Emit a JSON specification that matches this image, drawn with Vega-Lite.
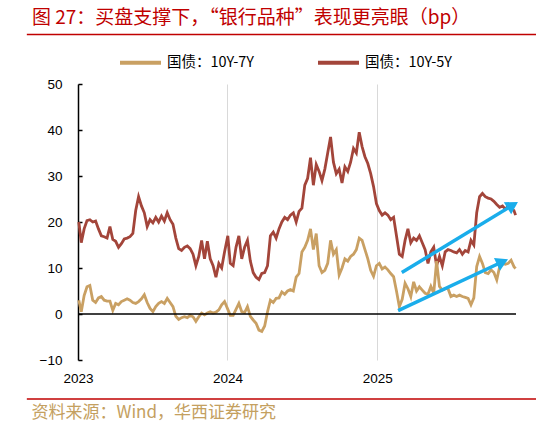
{
  "$schema": "https://vega.github.io/schema/vega-lite/v6.json",
  "width": 438,
  "height": 276,
  "autosize": {"type": "none"},
  "padding": {"left": 78, "top": 84, "right": 20, "bottom": 64},
  "background": "white",
  "title": {
    "text": "图 27：买盘支撑下，“银行品种”表现更亮眼（bp）",
    "anchor": "start",
    "frame": "group",
    "dx": -46,
    "dy": 21,
    "offset": 12,
    "color": "#C00000",
    "font": "Noto Sans CJK SC",
    "fontSize": 19,
    "fontWeight": "normal",
    "baseline": "alphabetic"
  },
  "datasets": {
    "spread": [
      {"d": "2023-01-03", "a": 3.0, "b": 20.0},
      {"d": "2023-01-09", "a": 0.5, "b": 15.5},
      {"d": "2023-01-16", "a": 4.0, "b": 18.5},
      {"d": "2023-01-23", "a": 5.9, "b": 20.3},
      {"d": "2023-01-30", "a": 6.2, "b": 20.5},
      {"d": "2023-02-06", "a": 3.0, "b": 20.0},
      {"d": "2023-02-13", "a": 2.5, "b": 20.2},
      {"d": "2023-02-20", "a": 3.5, "b": 18.5},
      {"d": "2023-02-27", "a": 3.8, "b": 17.0},
      {"d": "2023-03-06", "a": 3.0, "b": 16.8},
      {"d": "2023-03-13", "a": 2.8, "b": 16.5},
      {"d": "2023-03-20", "a": 2.8, "b": 19.0},
      {"d": "2023-03-27", "a": 0.8, "b": 16.2},
      {"d": "2023-04-03", "a": 2.3, "b": 15.8},
      {"d": "2023-04-10", "a": 2.0, "b": 14.5},
      {"d": "2023-04-17", "a": 2.7, "b": 15.3},
      {"d": "2023-04-24", "a": 3.0, "b": 16.3},
      {"d": "2023-05-01", "a": 3.3, "b": 16.5},
      {"d": "2023-05-08", "a": 3.0, "b": 16.8},
      {"d": "2023-05-15", "a": 2.5, "b": 17.5},
      {"d": "2023-05-22", "a": 2.3, "b": 22.5},
      {"d": "2023-05-29", "a": 2.7, "b": 25.5},
      {"d": "2023-06-05", "a": 3.3, "b": 23.5},
      {"d": "2023-06-12", "a": 4.2, "b": 22.0},
      {"d": "2023-06-19", "a": 2.5, "b": 19.0},
      {"d": "2023-06-26", "a": 1.2, "b": 20.5},
      {"d": "2023-07-03", "a": 0.5, "b": 19.8},
      {"d": "2023-07-10", "a": 1.6, "b": 21.0},
      {"d": "2023-07-17", "a": 2.3, "b": 20.0},
      {"d": "2023-07-24", "a": 2.7, "b": 21.3},
      {"d": "2023-07-31", "a": 2.3, "b": 20.2},
      {"d": "2023-08-07", "a": 3.4, "b": 22.0},
      {"d": "2023-08-14", "a": 2.5, "b": 20.5},
      {"d": "2023-08-21", "a": 1.6, "b": 19.5},
      {"d": "2023-08-28", "a": -0.5, "b": 16.5},
      {"d": "2023-09-04", "a": -1.2, "b": 14.2},
      {"d": "2023-09-11", "a": -0.8, "b": 13.8},
      {"d": "2023-09-18", "a": -0.6, "b": 14.5},
      {"d": "2023-09-25", "a": -0.8, "b": 14.8},
      {"d": "2023-10-02", "a": -0.3, "b": 14.2},
      {"d": "2023-10-09", "a": -0.6, "b": 13.0},
      {"d": "2023-10-16", "a": -1.6, "b": 10.5},
      {"d": "2023-10-23", "a": -0.6, "b": 12.5},
      {"d": "2023-10-30", "a": 0.2, "b": 16.0},
      {"d": "2023-11-06", "a": -0.2, "b": 12.0},
      {"d": "2023-11-13", "a": 0.2, "b": 15.8},
      {"d": "2023-11-20", "a": 0.5, "b": 12.0},
      {"d": "2023-11-27", "a": 0.2, "b": 10.5},
      {"d": "2023-12-04", "a": 0.4, "b": 8.0},
      {"d": "2023-12-11", "a": 0.9, "b": 11.0},
      {"d": "2023-12-18", "a": 2.0, "b": 10.0},
      {"d": "2023-12-25", "a": 2.7, "b": 13.5},
      {"d": "2024-01-02", "a": 1.0, "b": 17.0},
      {"d": "2024-01-08", "a": -0.3, "b": 11.0},
      {"d": "2024-01-15", "a": -0.3, "b": 10.5},
      {"d": "2024-01-22", "a": 1.0, "b": 14.5},
      {"d": "2024-01-29", "a": 2.3, "b": 17.0},
      {"d": "2024-02-05", "a": 0.5, "b": 12.0},
      {"d": "2024-02-12", "a": 0.3, "b": 14.5},
      {"d": "2024-02-19", "a": 1.6, "b": 16.0},
      {"d": "2024-02-26", "a": -0.5, "b": 11.5},
      {"d": "2024-03-04", "a": -1.3, "b": 9.0},
      {"d": "2024-03-11", "a": -2.0, "b": 8.0},
      {"d": "2024-03-18", "a": -3.5, "b": 7.5},
      {"d": "2024-03-25", "a": -3.8, "b": 8.8},
      {"d": "2024-04-01", "a": -2.6, "b": 9.0},
      {"d": "2024-04-08", "a": 0.5, "b": 10.5},
      {"d": "2024-04-15", "a": 3.0, "b": 17.0},
      {"d": "2024-04-22", "a": 2.5, "b": 17.8},
      {"d": "2024-04-29", "a": 3.4, "b": 16.5},
      {"d": "2024-05-06", "a": 3.5, "b": 18.5},
      {"d": "2024-05-13", "a": 4.8, "b": 20.0},
      {"d": "2024-05-20", "a": 4.3, "b": 21.0},
      {"d": "2024-05-27", "a": 5.0, "b": 20.5},
      {"d": "2024-06-03", "a": 5.3, "b": 21.5},
      {"d": "2024-06-10", "a": 5.0, "b": 22.0},
      {"d": "2024-06-17", "a": 8.0, "b": 20.0},
      {"d": "2024-06-24", "a": 8.8, "b": 22.3},
      {"d": "2024-07-01", "a": 13.5, "b": 23.0},
      {"d": "2024-07-08", "a": 14.5, "b": 28.0},
      {"d": "2024-07-15", "a": 16.0, "b": 29.5},
      {"d": "2024-07-22", "a": 18.5, "b": 34.0},
      {"d": "2024-07-29", "a": 14.0, "b": 28.0},
      {"d": "2024-08-05", "a": 17.5, "b": 32.5},
      {"d": "2024-08-12", "a": 10.5, "b": 31.0},
      {"d": "2024-08-19", "a": 9.0, "b": 29.0},
      {"d": "2024-08-26", "a": 9.5, "b": 31.5},
      {"d": "2024-09-02", "a": 11.0, "b": 35.0},
      {"d": "2024-09-09", "a": 16.0, "b": 38.5},
      {"d": "2024-09-16", "a": 13.0, "b": 33.0},
      {"d": "2024-09-23", "a": 14.0, "b": 30.5},
      {"d": "2024-09-30", "a": 8.5, "b": 31.5},
      {"d": "2024-10-07", "a": 10.0, "b": 28.5},
      {"d": "2024-10-14", "a": 12.0, "b": 32.0},
      {"d": "2024-10-21", "a": 11.5, "b": 31.0},
      {"d": "2024-10-28", "a": 12.5, "b": 33.0},
      {"d": "2024-11-04", "a": 13.0, "b": 36.0},
      {"d": "2024-11-11", "a": 14.0, "b": 35.0},
      {"d": "2024-11-18", "a": 16.5, "b": 39.5},
      {"d": "2024-11-25", "a": 16.0, "b": 36.4},
      {"d": "2024-12-02", "a": 14.0, "b": 34.2},
      {"d": "2024-12-09", "a": 12.0, "b": 32.7},
      {"d": "2024-12-16", "a": 9.5, "b": 30.5},
      {"d": "2024-12-23", "a": 8.2, "b": 27.7},
      {"d": "2024-12-30", "a": 10.5, "b": 24.0},
      {"d": "2025-01-06", "a": 11.0, "b": 22.5},
      {"d": "2025-01-13", "a": 9.8, "b": 21.5},
      {"d": "2025-01-20", "a": 10.2, "b": 22.0},
      {"d": "2025-01-27", "a": 9.6, "b": 21.5},
      {"d": "2025-02-03", "a": 8.8, "b": 20.5},
      {"d": "2025-02-10", "a": 8.1, "b": 21.0},
      {"d": "2025-02-17", "a": 5.0, "b": 17.0},
      {"d": "2025-02-24", "a": 1.6, "b": 13.0},
      {"d": "2025-03-03", "a": 3.2, "b": 12.5},
      {"d": "2025-03-10", "a": 6.7, "b": 16.0},
      {"d": "2025-03-17", "a": 5.5, "b": 18.5},
      {"d": "2025-03-24", "a": 3.8, "b": 15.5},
      {"d": "2025-03-31", "a": 7.0, "b": 16.5},
      {"d": "2025-04-07", "a": 5.0, "b": 16.0},
      {"d": "2025-04-14", "a": 5.9, "b": 17.0},
      {"d": "2025-04-21", "a": 5.2, "b": 15.5},
      {"d": "2025-04-28", "a": 4.5, "b": 14.0},
      {"d": "2025-05-05", "a": 4.3, "b": 11.0},
      {"d": "2025-05-12", "a": 6.0, "b": 13.5},
      {"d": "2025-05-19", "a": 4.5, "b": 14.5},
      {"d": "2025-05-26", "a": 11.5, "b": 10.5},
      {"d": "2025-06-02", "a": 6.0, "b": 12.5},
      {"d": "2025-06-09", "a": 5.2, "b": 10.5},
      {"d": "2025-06-16", "a": 5.5, "b": 13.5},
      {"d": "2025-06-23", "a": 5.5, "b": 14.0},
      {"d": "2025-06-30", "a": 3.8, "b": 13.8},
      {"d": "2025-07-07", "a": 4.1, "b": 13.5},
      {"d": "2025-07-14", "a": 3.8, "b": 13.3},
      {"d": "2025-07-21", "a": 4.1, "b": 14.0},
      {"d": "2025-07-28", "a": 3.8, "b": 13.0},
      {"d": "2025-08-04", "a": 3.6, "b": 13.8},
      {"d": "2025-08-11", "a": 3.4, "b": 13.5},
      {"d": "2025-08-18", "a": 2.0, "b": 16.0},
      {"d": "2025-08-25", "a": 3.5, "b": 15.0},
      {"d": "2025-09-01", "a": 10.3, "b": 22.0},
      {"d": "2025-09-08", "a": 12.5, "b": 25.5},
      {"d": "2025-09-15", "a": 11.0, "b": 26.2},
      {"d": "2025-09-22", "a": 9.0, "b": 25.5},
      {"d": "2025-09-29", "a": 8.8, "b": 25.2},
      {"d": "2025-10-06", "a": 9.6, "b": 25.0},
      {"d": "2025-10-13", "a": 9.0, "b": 24.5},
      {"d": "2025-10-20", "a": 7.4, "b": 23.8},
      {"d": "2025-10-27", "a": 10.3, "b": 23.2},
      {"d": "2025-11-03", "a": 11.0, "b": 23.5},
      {"d": "2025-11-10", "a": 10.8, "b": 22.8},
      {"d": "2025-11-17", "a": 11.0, "b": 23.5},
      {"d": "2025-11-24", "a": 11.7, "b": 23.0},
      {"d": "2025-12-01", "a": 10.3, "b": 22.5},
      {"d": "2025-12-05", "a": 9.9, "b": 21.5}
    ],
    "arrows": [
      {"id": 1, "d1": "2025-03-02", "v1": 9.02, "d2": "2025-11-28", "v2": 23.67},
      {"id": 2, "d1": "2025-02-21", "v1": 0.72, "d2": "2025-11-03", "v2": 11.35}
    ]
  },
  "layer": [
    {
      "data": {"name": "spread"},
      "transform": [{"fold": ["b", "a"], "as": ["s", "v"]}],
      "mark": {"type": "line", "strokeWidth": 2.8},
      "encoding": {
        "x": {
          "field": "d",
          "type": "temporal",
          "scale": {"domain": [{"year": 2023, "month": 1, "date": 1}, {"year": 2025, "month": 12, "date": 6}]},
          "axis": {
            "values": [{"year": 2023, "month": 1, "date": 1}, {"year": 2024, "month": 1, "date": 1}, {"year": 2025, "month": 1, "date": 1}],
            "format": "%Y",
            "domain": false,
            "ticks": false,
            "grid": true,
            "gridColor": "#d9d9d9",
            "gridWidth": 1,
            "labelFlush": false,
            "labelPadding": 11,
            "title": "资料来源：Wind，华西证券研究",
            "titleFont": "Noto Sans CJK SC",
            "titleFontSize": 17,
            "titleFontWeight": "normal",
            "titleColor": "#C4A060",
            "titleAnchor": "start",
            "titleAlign": "left",
            "titleBaseline": "middle",
            "titleX": -47,
            "titleY": 52
          }
        },
        "y": {
          "field": "v",
          "type": "quantitative",
          "scale": {"domain": [-10, 50], "nice": false},
          "axis": {
            "values": [-10, 0, 10, 20, 30, 40, 50],
            "grid": false,
            "title": null,
            "domainColor": "black",
            "domainWidth": 1.5,
            "tickColor": "black",
            "tickWidth": 1.5,
            "tickSize": -4,
            "labelPadding": 20
          }
        },
        "color": {
          "field": "s",
          "type": "nominal",
          "scale": {"domain": ["a", "b"], "range": ["#C9A063", "#A3453A"]},
          "legend": {
            "orient": "none",
            "legendX": 40,
            "legendY": -44,
            "direction": "horizontal",
            "title": null,
            "padding": 0,
            "symbolType": "stroke",
            "symbolSize": 1681,
            "symbolStrokeWidth": 4,
            "labelExpr": "datum.label == 'a' ? '国债：10Y-7Y' : '国债：10Y-5Y'",
            "labelFont": "Noto Sans CJK SC",
            "labelFontSize": 14.5,
            "labelColor": "black",
            "labelOffset": 4,
            "columnPadding": 56
          }
        }
      }
    },
    {
      "data": {"values": [{}]},
      "mark": {"type": "rule", "color": "black", "strokeWidth": 1.5},
      "encoding": {"y": {"datum": 0}}
    },
    {
      "data": {"values": [{}]},
      "mark": {"type": "rule", "color": "#C00000", "strokeWidth": 1.5},
      "encoding": {
        "x": {"datum": {"year": 2022, "month": 8, "date": 29}, "type": "temporal"},
        "x2": {"datum": {"year": 2026, "month": 1, "date": 24}},
        "y": {"datum": 60.76}
      }
    },
    {
      "data": {"values": [{}]},
      "mark": {"type": "rule", "color": "#C00000", "strokeWidth": 1.5},
      "encoding": {
        "x": {"datum": {"year": 2022, "month": 8, "date": 29}, "type": "temporal"},
        "x2": {"datum": {"year": 2026, "month": 1, "date": 24}},
        "y": {"datum": -18.48}
      }
    },
    {
      "data": {"name": "arrows"},
      "mark": {"type": "rule", "color": "#1AADEB", "strokeWidth": 3.5},
      "encoding": {
        "x": {"field": "d1", "type": "temporal"},
        "x2": {"field": "d2"},
        "y": {"field": "v1", "type": "quantitative"},
        "y2": {"field": "v2"}
      }
    },
    {
      "data": {"name": "arrows"},
      "transform": [{"filter": "datum.id == 1"}],
      "mark": {"type": "point", "shape": "triangle-up", "filled": true, "color": "#1AADEB", "opacity": 1, "size": 200, "angle": 58.7},
      "encoding": {
        "x": {"field": "d2", "type": "temporal"},
        "y": {"field": "v2", "type": "quantitative"}
      }
    },
    {
      "data": {"name": "arrows"},
      "transform": [{"filter": "datum.id == 2"}],
      "mark": {"type": "point", "shape": "triangle-up", "filled": true, "color": "#1AADEB", "opacity": 1, "size": 200, "angle": 64.9},
      "encoding": {
        "x": {"field": "d2", "type": "temporal"},
        "y": {"field": "v2", "type": "quantitative"}
      }
    }
  ],
  "config": {
    "view": {"stroke": null},
    "axis": {
      "labelFont": "Liberation Sans",
      "labelFontSize": 13.5,
      "labelColor": "black"
    }
  }
}
